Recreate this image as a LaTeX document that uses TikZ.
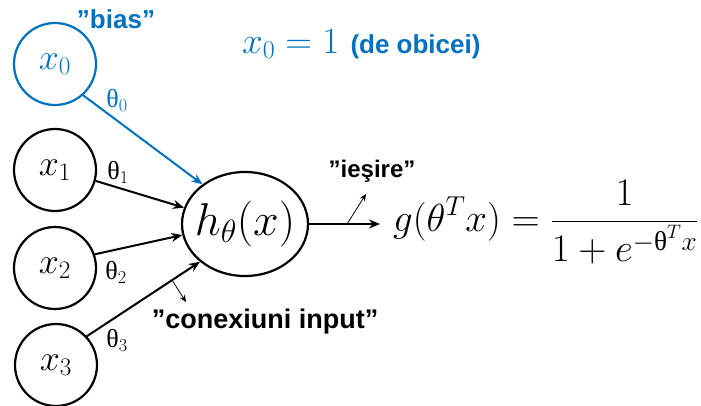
\RequirePackage{fix-cm}
\documentclass[tikz,border=0pt]{standalone}
\usepackage{fontspec}
\usepackage{amsmath}
\setsansfont{Liberation Sans}
\newfontfamily\thfont{Liberation Serif}
\usetikzlibrary{arrows.meta,shapes.geometric}
\definecolor{bblue}{HTML}{0070C0}
\tikzset{
  inp/.style={circle,draw,line width=2.2pt,minimum size=82pt,inner sep=0pt,font=\fontsize{36}{40}\selectfont},
  wire/.style={line width=2pt,-{Stealth[length=11pt,width=9pt]}},
  thinarrow/.style={line width=0.8pt,-{Stealth[length=7pt,width=6pt]}},
  lab/.style={font=\sffamily\bfseries\fontsize{26}{30}\selectfont,inner sep=0pt},
  thlab/.style={font=\fontsize{26}{30}\selectfont,inner sep=0pt},
}
\begin{document}
\begin{tikzpicture}[x=1pt,y=-1pt]
\useasboundingbox (0,0) rectangle (701,406);
% input nodes
\node[inp,draw=bblue,text=bblue] (x0) at (55,64) {$x_0$};
\node[inp] (x1) at (55,170) {$x_1$};
\node[inp] (x2) at (55,268) {$x_2$};
\node[inp] (x3) at (56,365) {$x_3$};
% neuron
\node[ellipse,draw,line width=2.2pt,minimum width=126pt,minimum height=104pt,inner sep=0pt,
      label={[font=\fontsize{46}{50}\selectfont,inner sep=0pt]center:$h_\theta(x)$}] (h) at (245,224) {};
% formula
\node[anchor=west,inner xsep=13pt,inner ysep=0pt,font=\fontsize{39}{44}\selectfont] (f) at (380,222)
  {$\displaystyle g(\theta^T x)=\frac{1}{1+e^{-\text{\thfont θ}^T x}}$};
% connections
\draw[wire,bblue] (x0.-48) -- (h.137);
\draw[wire] (x1.-15) -- (h.165);
\draw[wire] (x2.19) -- (h.190);
\draw[wire] (x3.43) -- (h.220);
\draw[wire] (h.east) -- (h.east -| f.west);
% weight labels
\node[thlab,text=bblue] (t0) at (117,100) {{\thfont θ}$_0$};
\node[thlab] (t1) at (118,172) {{\thfont θ}$_1$};
\node[thlab] (t2) at (116,272) {{\thfont θ}$_2$};
\node[thlab] (t3) at (117,340) {{\thfont θ}$_3$};
% text labels
\node[lab,text=bblue] (bias) at (116,19) {”bias”};
\node[anchor=west,inner sep=0pt,text=bblue] (eq) at (242,44)
  {\fontsize{37}{42}\selectfont$x_0=1$ {\sffamily\bfseries\fontsize{26}{30}\selectfont (de obicei)}};
\node[lab,font=\sffamily\bfseries\fontsize{24}{28}\selectfont] (ies) at (372,171) {”ieşire”};
\node[lab,font=\sffamily\bfseries\fontsize{27}{30}\selectfont] (con) at (265,322) {”conexiuni input”};
% pointer arrows
\coordinate (o1) at (347,224);
\coordinate (o2) at (366,194);
\draw[thinarrow] (o1) -- (o2);
\coordinate (c1) at (172,280);
\coordinate (c2) at (186,302);
\draw[thinarrow] (c1) -- (c2);
\end{tikzpicture}
\end{document}
